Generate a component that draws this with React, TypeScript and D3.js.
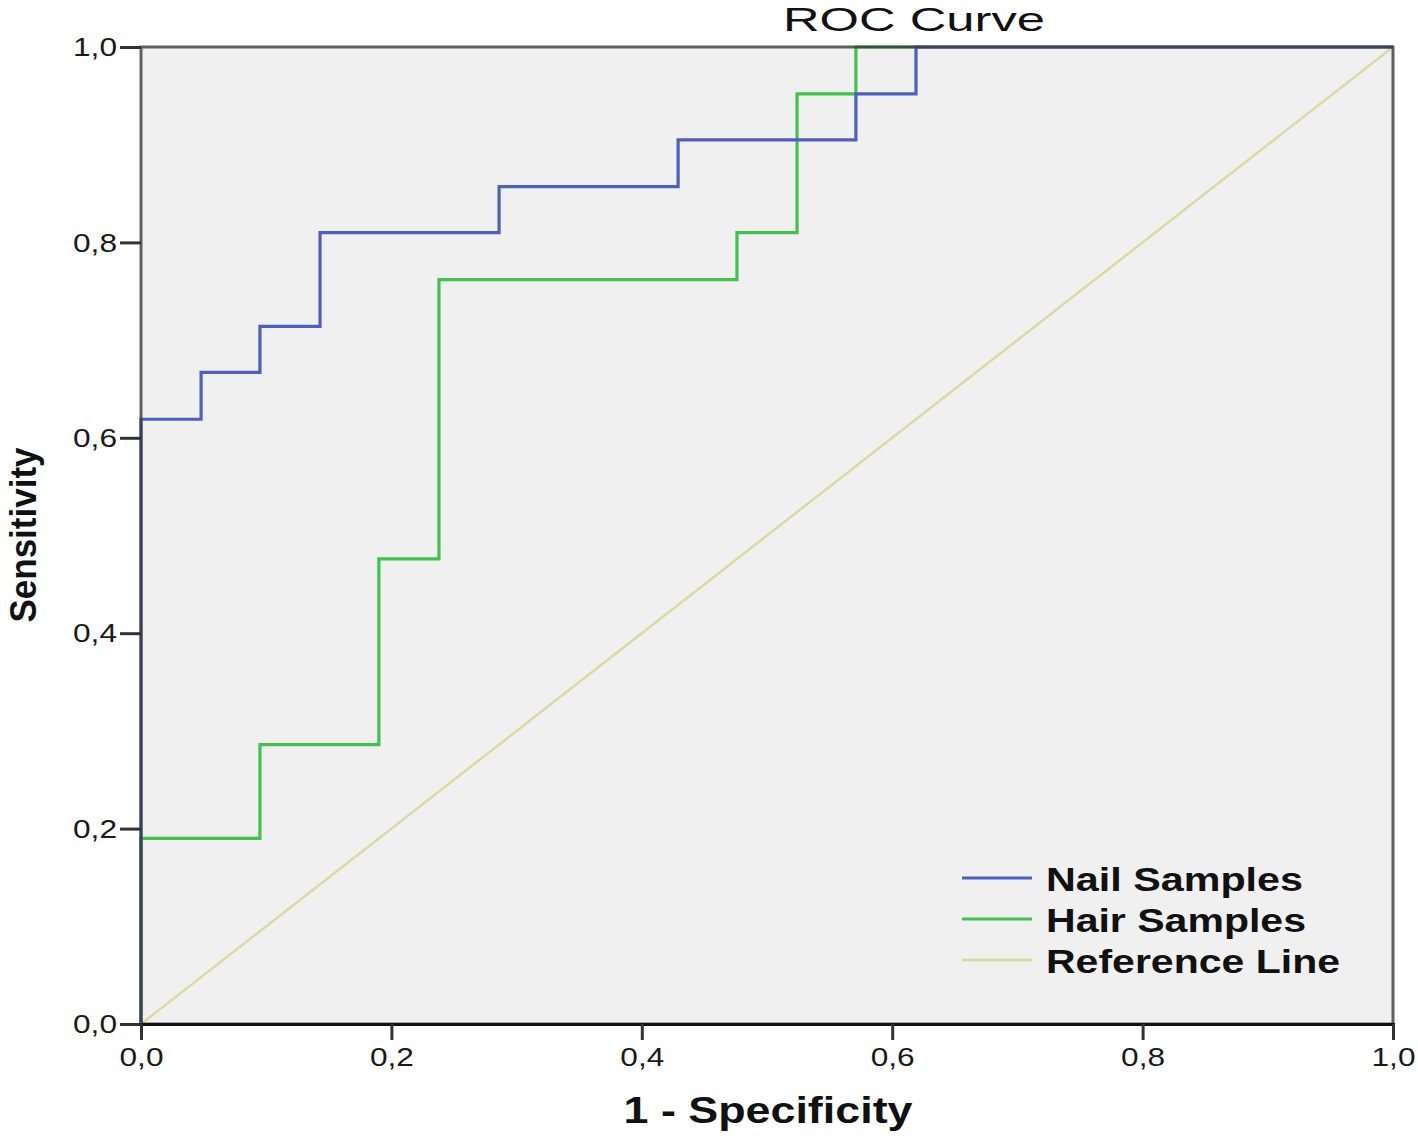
import { useEffect, useRef } from 'react'
import * as d3 from 'd3'

// ROC coordinates (1 - specificity, sensitivity)
const NAIL_FPR = [0, 0, 0.048, 0.048, 0.095, 0.095, 0.143, 0.143, 0.286, 0.286, 0.429, 0.429, 0.571, 0.571, 0.619, 0.619, 1]
const NAIL_TPR = [0, 0.619, 0.619, 0.667, 0.667, 0.714, 0.714, 0.81, 0.81, 0.857, 0.857, 0.905, 0.905, 0.952, 0.952, 1, 1]
const HAIR_FPR = [0, 0, 0.095, 0.095, 0.19, 0.19, 0.238, 0.238, 0.476, 0.476, 0.524, 0.524, 0.571, 0.571, 1]
const HAIR_TPR = [0, 0.19, 0.19, 0.286, 0.286, 0.476, 0.476, 0.762, 0.762, 0.81, 0.81, 0.952, 0.952, 1, 1]
const REF_FPR = [0, 1]
const REF_TPR = [0, 1]
const TICKS = [0, 0.2, 0.4, 0.6, 0.8, 1]
const SERIES = ['Nail Samples', 'Hair Samples', 'Reference Line']
const COLORS = ['#4d5fbf', '#40c24e', '#d9dca2']

const W = 1418
const H = 1136
const M = { t: 47, r: 25, b: 112, l: 141 }
const FONT = '"Liberation Sans", Arial, sans-serif'

type Pt = [number, number]
const zip = (xs: number[], ys: number[]): Pt[] => xs.map((x, i) => [x, ys[i]])
const fmtTick = (d: d3.NumberValue) => d3.format('.1f')(d as number).replace('.', ',')

export default function App() {
  const ref = useRef<SVGSVGElement>(null)

  useEffect(() => {
    const svg = d3.select(ref.current)
    svg.selectAll('*').remove()
    const iw = W - M.l - M.r
    const ih = H - M.t - M.b
    const x = d3.scaleLinear().domain([0, 1]).range([0, iw])
    const y = d3.scaleLinear().domain([0, 1]).range([ih, 0])
    const g = svg.append('g').attr('transform', `translate(${M.l},${M.t})`)

    g.append('rect').attr('width', iw).attr('height', ih).attr('fill', '#f0f0f0')

    const line = d3.line<Pt>().x((d) => x(d[0])).y((d) => y(d[1]))
    const data = [zip(NAIL_FPR, NAIL_TPR), zip(HAIR_FPR, HAIR_TPR), zip(REF_FPR, REF_TPR)]
    // reference first, then hair, then nail on top
    ;[2, 1, 0].forEach((i) => {
      g.append('path').datum(data[i]).attr('d', line).attr('fill', 'none')
        .attr('stroke', COLORS[i]).attr('stroke-width', i === 2 ? 2.5 : 3.2)
    })

    // frame
    g.append('rect').attr('width', iw).attr('height', ih).attr('fill', 'none')
      .attr('stroke', '#3a3a3a').attr('stroke-width', 3).attr('stroke-opacity', 0.8)

    // axes
    const xa = g.append('g').attr('transform', `translate(0,${ih})`)
      .call(d3.axisBottom(x).tickValues(TICKS).tickSize(16).tickFormat(fmtTick))
    xa.select('.domain').attr('stroke', '#111').attr('stroke-width', 3)
    xa.selectAll('.tick line').attr('stroke', '#333').attr('stroke-width', 3)
    xa.selectAll('.tick text').attr('font-family', FONT).attr('font-size', 25).attr('fill', '#1a1a1a')
      .attr('y', 0).attr('dy', 42).attr('textLength', 44).attr('lengthAdjust', 'spacingAndGlyphs')

    const ya = g.append('g')
      .call(d3.axisLeft(y).tickValues(TICKS).tickSize(21).tickFormat(fmtTick))
    ya.select('.domain').remove()
    ya.selectAll('.tick line').attr('stroke', '#333').attr('stroke-width', 3)
    ya.selectAll('.tick text').attr('font-family', FONT).attr('font-size', 25).attr('fill', '#1a1a1a')
      .attr('x', -24).attr('dy', '0.35em').attr('textLength', 44).attr('lengthAdjust', 'spacingAndGlyphs')

    // titles
    svg.append('text').attr('x', 914).attr('y', 31).attr('text-anchor', 'middle')
      .attr('font-family', FONT).attr('font-size', 34).attr('fill', '#111')
      .attr('textLength', 262).attr('lengthAdjust', 'spacingAndGlyphs').text('ROC Curve')
    svg.append('text').attr('x', 768).attr('y', 1123).attr('text-anchor', 'middle')
      .attr('font-family', FONT).attr('font-size', 36).attr('font-weight', 'bold').attr('fill', '#111')
      .attr('textLength', 289).attr('lengthAdjust', 'spacingAndGlyphs').text('1 - Specificity')
    svg.append('text').attr('transform', 'translate(36,535) rotate(-90)').attr('text-anchor', 'middle')
      .attr('font-family', FONT).attr('font-size', 36).attr('font-weight', 'bold').attr('fill', '#111')
      .attr('textLength', 175).attr('lengthAdjust', 'spacingAndGlyphs').text('Sensitivity')

    // legend
    const lens = [257, 260, 294]
    SERIES.forEach((s, i) => {
      const ly = 878 + i * 41
      svg.append('line').attr('x1', 962).attr('x2', 1032).attr('y1', ly).attr('y2', ly)
        .attr('stroke', COLORS[i]).attr('stroke-width', 3)
      svg.append('text').attr('x', 1046).attr('y', ly + 13)
        .attr('font-family', FONT).attr('font-size', 33).attr('font-weight', 'bold').attr('fill', '#111')
        .attr('textLength', lens[i]).attr('lengthAdjust', 'spacingAndGlyphs').text(s)
    })
  }, [])

  return (
    <div style={{ position: 'fixed', left: 0, top: 0, width: W, height: H, overflow: 'hidden', background: '#fff' }}>
      <svg ref={ref} width={W} height={H} style={{ display: 'block' }} />
    </div>
  )
}
